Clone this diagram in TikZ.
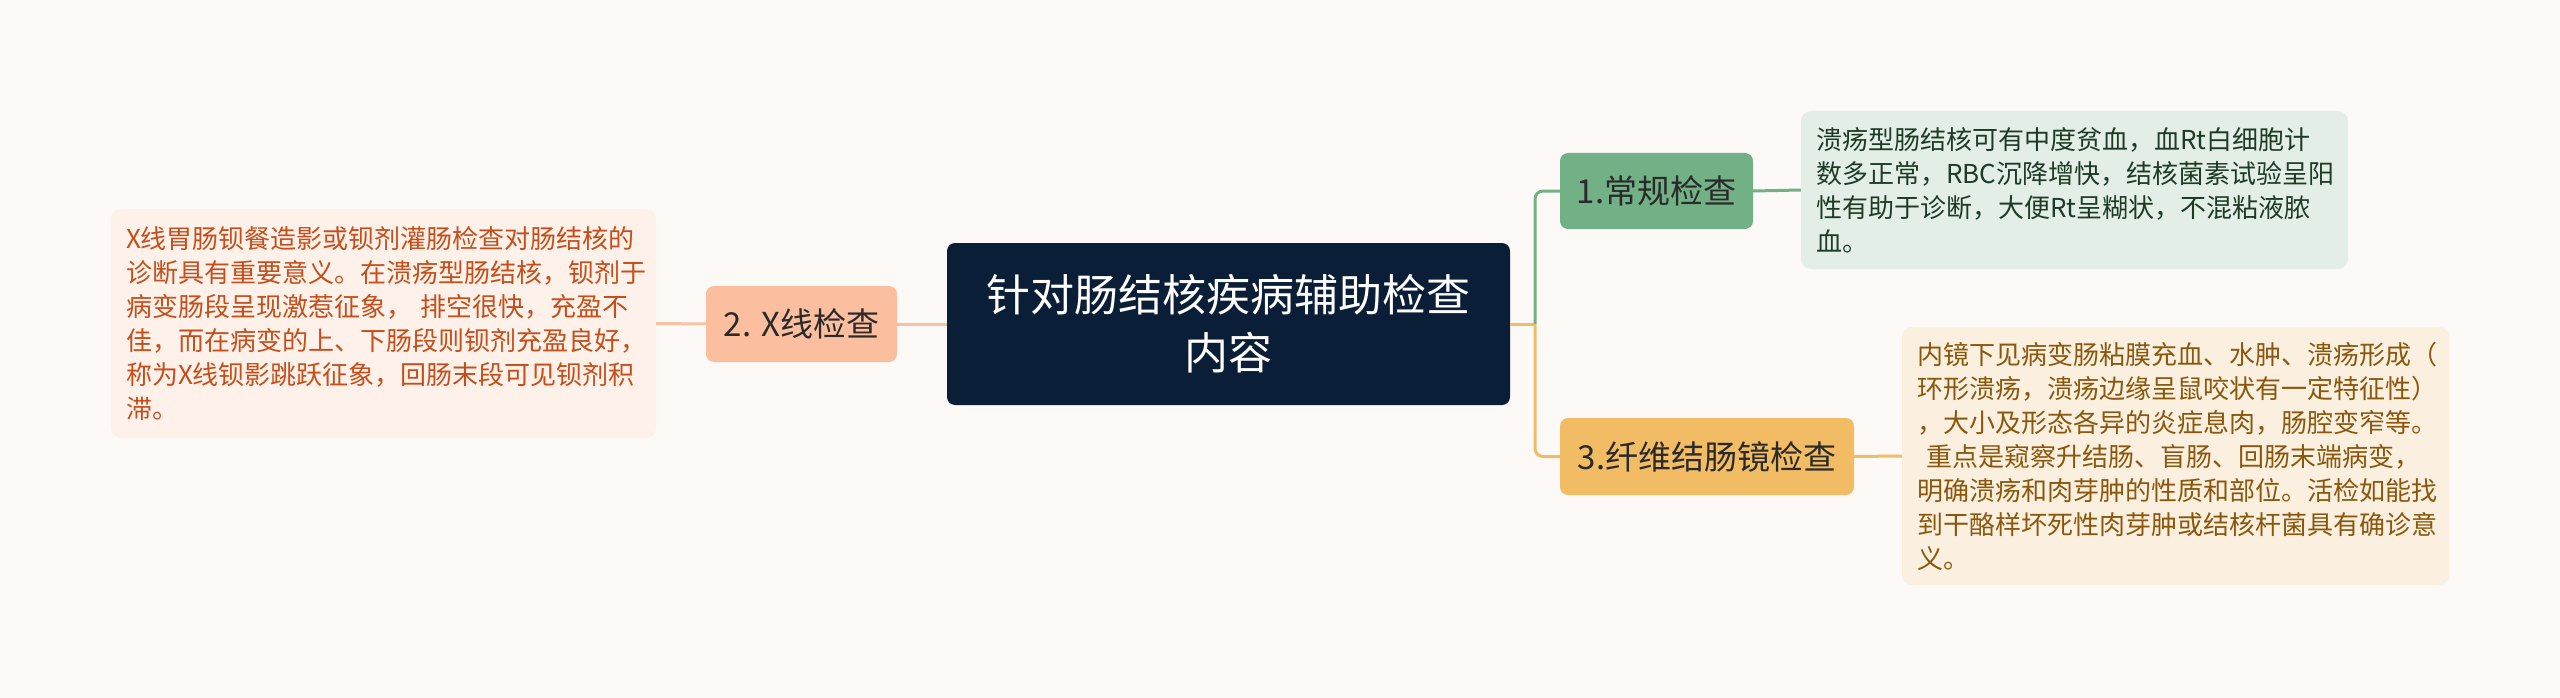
\documentclass[tikz,border=0pt]{standalone}
\usepackage{fontspec}
\setmainfont{Noto Sans CJK SC}
\usepackage{tikz}
\usetikzlibrary{calc}

\definecolor{bgcolor}{HTML}{FDF9F7}
\definecolor{rootfill}{HTML}{0B1E38}
\definecolor{greenfill}{HTML}{72B086}
\definecolor{salmonfill}{HTML}{FBBE9F}
\definecolor{salmonline}{HTML}{F8C1A6}
\definecolor{orangefill}{HTML}{F1BC63}
\definecolor{orangeline}{HTML}{EEBD66}
\definecolor{notegreen}{HTML}{E3EFE6}
\definecolor{notegreentext}{HTML}{1F3B27}
\definecolor{notesalmon}{HTML}{FDF1EA}
\definecolor{notesalmontext}{HTML}{C54E1A}
\definecolor{noteorange}{HTML}{FBF0DF}
\definecolor{noteorangetext}{HTML}{8A570C}
\definecolor{labeltext}{HTML}{2A2A2A}

\tikzset{
	topicbox/.style={rounded corners=8pt, inner sep=0pt, align=center, text=labeltext, font=\fontsize{33}{40}\selectfont},
	notebox/.style={rounded corners=10pt, inner xsep=15pt, inner ysep=0pt, align=left, font=\fontsize{26}{34}\selectfont},
	branch/.style={line width=3pt},
}

\begin{document}
\begin{tikzpicture}[x=1pt, y=-1pt]
			%%%%% START %%%%%
			
			\fill[bgcolor] (0, 0) rectangle (2560, 698);
			
			\node[fill=rootfill, rounded corners=8pt, inner sep=0pt, minimum width=563pt, minimum height=162pt, align=center, text=white, font=\fontsize{44}{58}\selectfont] (root) at (1228.5, 324) {针对肠结核疾病辅助检查\\内容};
			
			\node[topicbox, fill=greenfill, minimum width=193pt, minimum height=76pt] (chang) at (1656.5, 191) {1.常规检查};
			\node[topicbox, fill=salmonfill, minimum width=191pt, minimum height=76pt] (xray) at (801.5, 324) {2. X线检查};
			\node[topicbox, fill=orangefill, minimum width=294pt, minimum height=77pt] (jing) at (1707, 456.5) {3.纤维结肠镜检查};
			
			\node[notebox, fill=notegreen, text=notegreentext, text width=517pt, minimum height=158pt] (changnote) at (2074.5, 190) {溃疡型肠结核可有中度贫血，血Rt白细胞计\\数多正常，RBC沉降增快，结核菌素试验呈阳\\性有助于诊断，大便Rt呈糊状，不混粘液脓\\血。};
			
			\node[notebox, fill=notesalmon, text=notesalmontext, text width=515pt, minimum height=229pt] (xraynote) at (383.5, 323.5) {X线胃肠钡餐造影或钡剂灌肠检查对肠结核的\\诊断具有重要意义。在溃疡型肠结核，钡剂于\\病变肠段呈现激惹征象，~排空很快，充盈不\\佳，而在病变的上、下肠段则钡剂充盈良好，\\称为X线钡影跳跃征象，回肠末段可见钡剂积\\滞。};
			
			\node[notebox, fill=noteorange, text=noteorangetext, text width=517pt, minimum height=258pt] (jingnote) at (2175.5, 456) {内镜下见病变肠粘膜充血、水肿、溃疡形成（\\环形溃疡，溃疡边缘呈鼠咬状有一定特征性）\\，大小及形态各异的炎症息肉，肠腔变窄等。\\\hspace*{0.35em}重点是窥察升结肠、盲肠、回肠末端病变，\\明确溃疡和肉芽肿的性质和部位。活检如能找\\到干酪样坏死性肉芽肿或结核杆菌具有确诊意\\义。};
			
			\coordinate (fork) at (1535, 324);
			\draw[branch, color=orangeline] (root.east) -- (fork);
			\draw[branch, color=greenfill, rounded corners=8pt] (fork) |- (chang.west);
			\draw[branch, color=orangeline, rounded corners=8pt] (fork) |- (jing.west);
			\draw[branch, color=greenfill] (chang.east) -- (changnote.west);
			\draw[branch, color=orangeline] (jing.east) -- (jingnote.west);
			\draw[branch, color=salmonline] (root.west) -- (xray.east);
			\draw[branch, color=salmonline] (xray.west) -- (xraynote.east);
			
			%%%%% END %%%%%
		\end{tikzpicture}
\end{document}
